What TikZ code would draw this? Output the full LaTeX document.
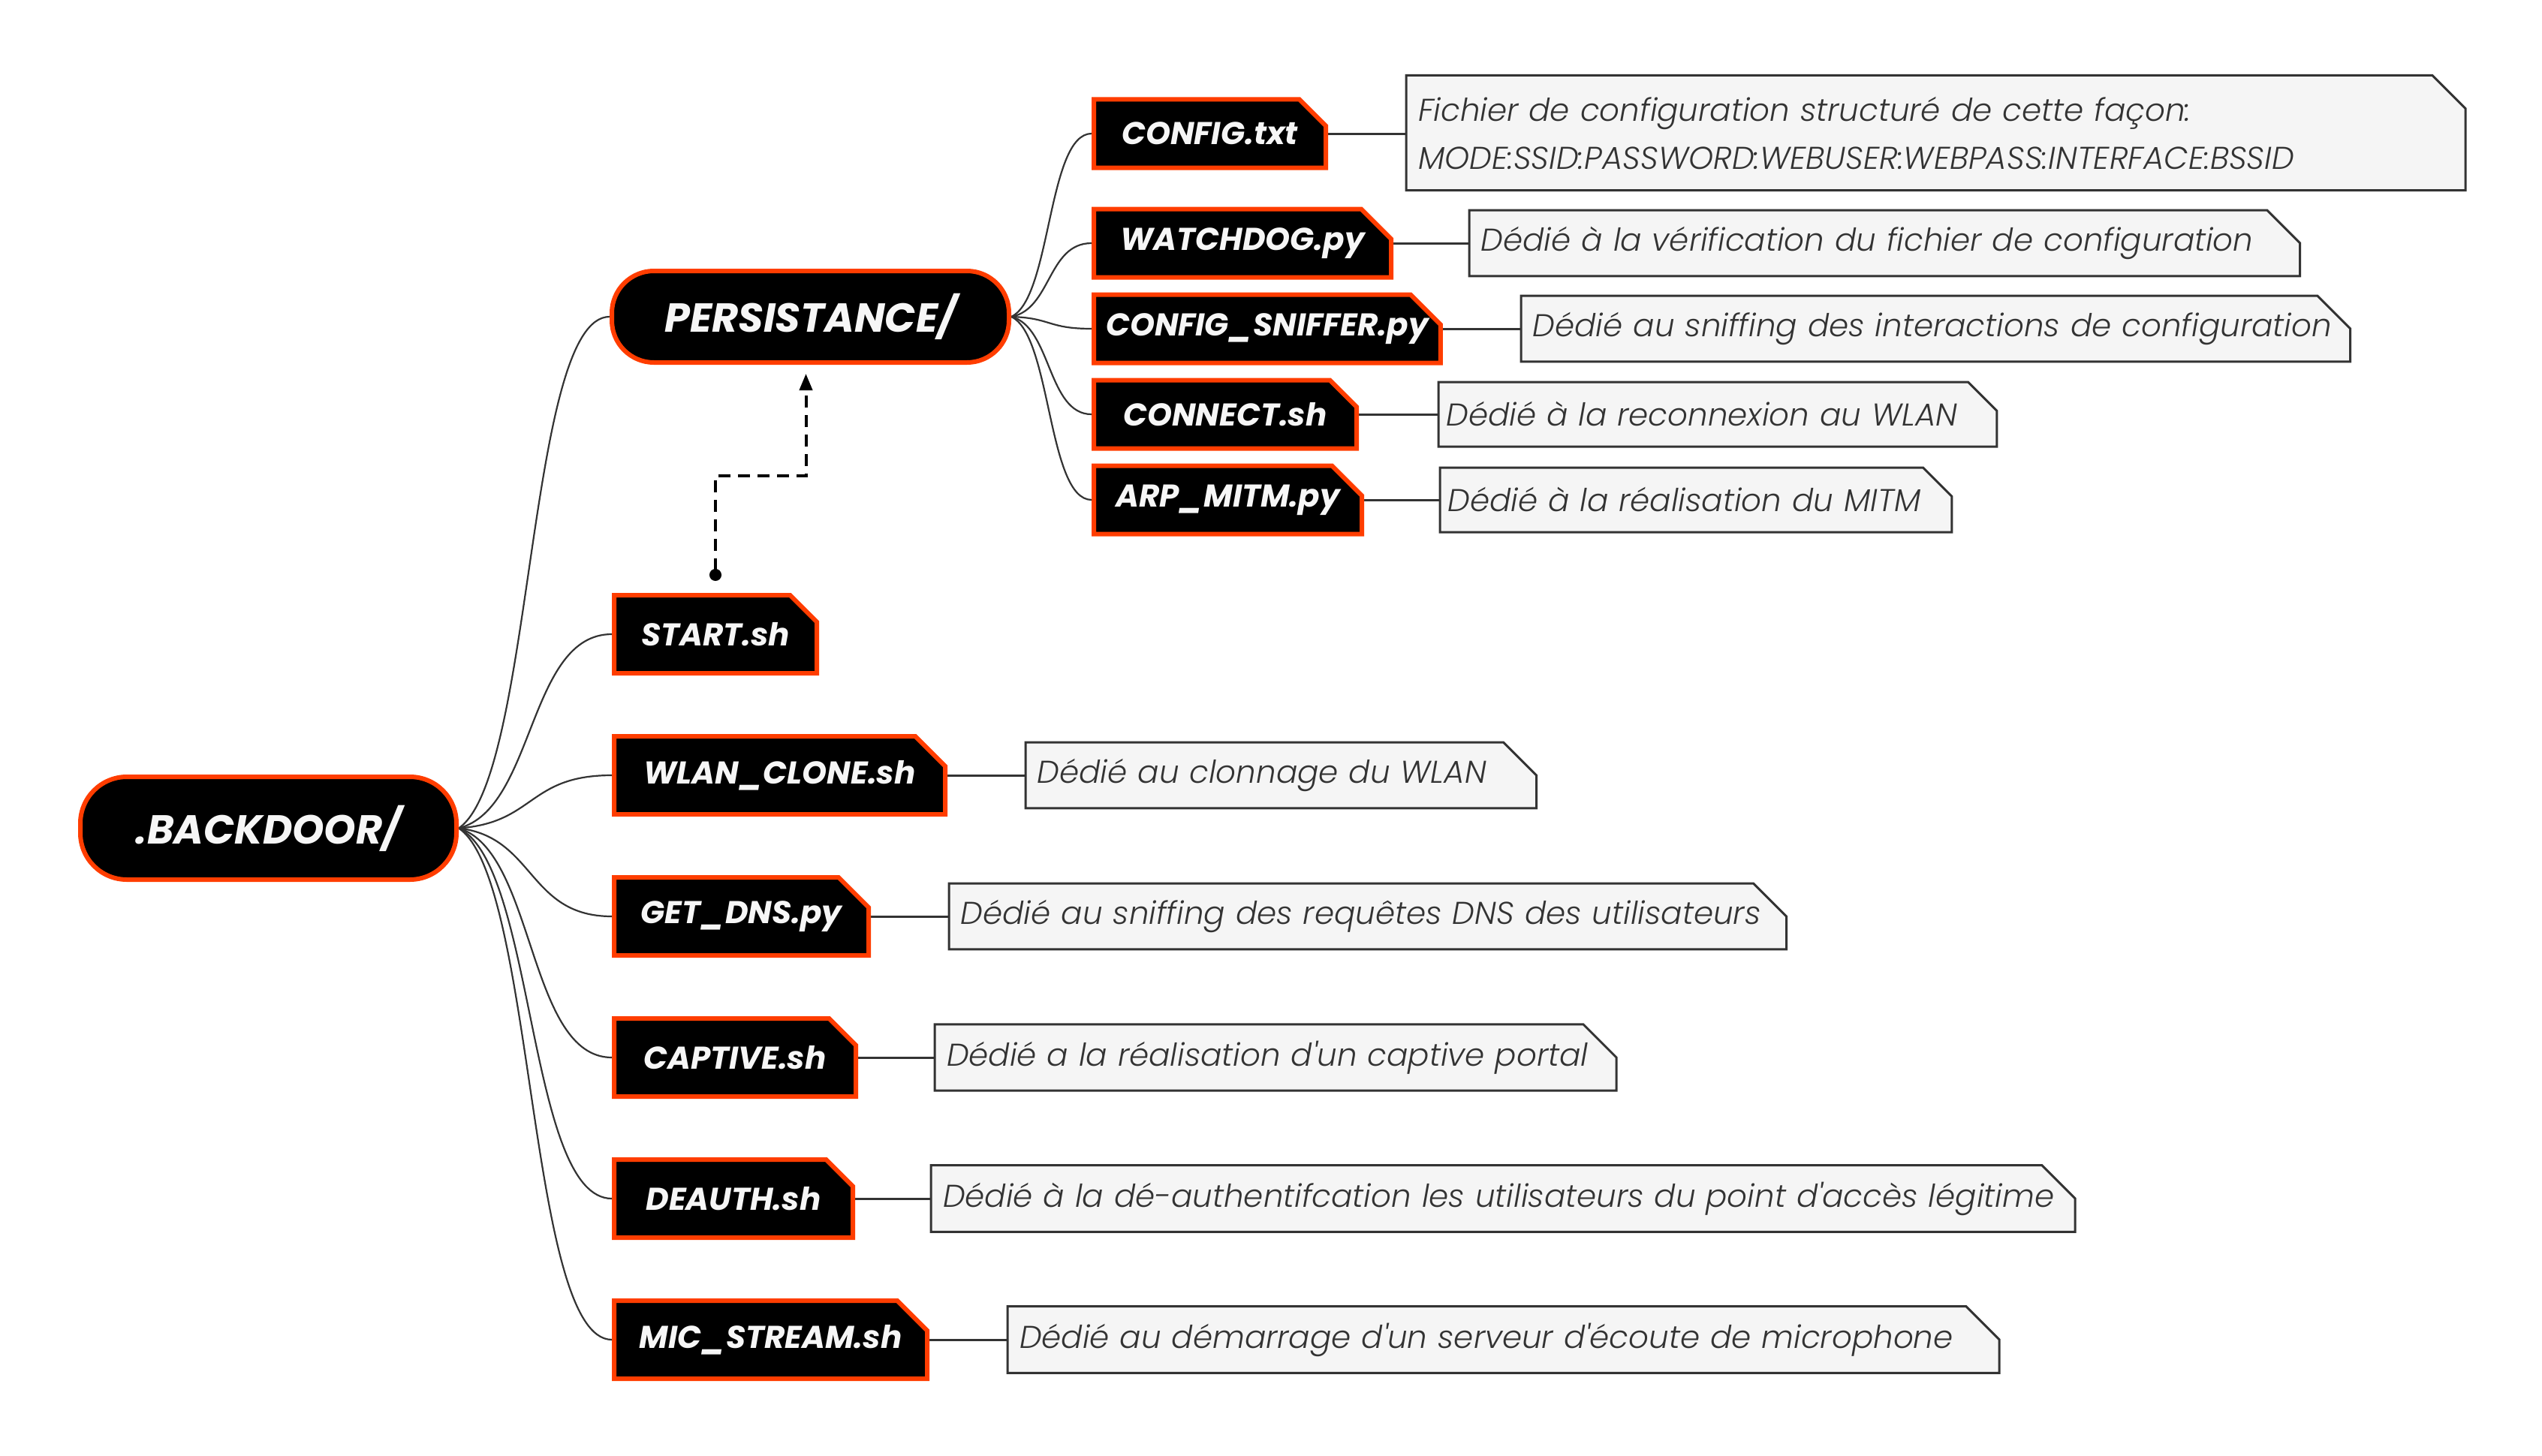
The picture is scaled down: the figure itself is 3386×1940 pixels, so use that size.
\documentclass[tikz,border=0pt]{standalone}
\usepackage{fontspec}
\setmainfont{Poppins}
\newfontfamily\descfont{Poppins}[UprightFont=* Light, ItalicFont=* Light Italic]
\usetikzlibrary{shapes.misc,arrows.meta,calc,backgrounds}
\definecolor{mmorange}{HTML}{FF3D00}
\definecolor{mmdark}{HTML}{333333}
\definecolor{mmfill}{HTML}{F5F5F5}
\definecolor{mmtext}{HTML}{F6F6F6}
\newcommand{\apos}{\symbol{39}}
\newcommand{\mmlink}[2]{%
  \draw[curvelink] let \p1=(#1.east), \p2=(#2.west) in
    (\p1) .. controls ({\x1+0.5*(\x2-\x1)},{\y1+0.1*(\y2-\y1)}) and ({\x1+0.45*(\x2-\x1)},\y2) .. (\p2);}
\begin{document}
\begin{tikzpicture}[x=1pt,y=-1pt,
  hub/.style={draw=mmorange, fill=black, line width=6pt, rounded corners=#1,
    text=mmtext, font=\fontsize{54}{60}\selectfont\bfseries\itshape, inner sep=0pt},
  filebox/.style={chamfered rectangle, chamfered rectangle corners=north east,
    chamfered rectangle xsep=20pt, chamfered rectangle ysep=20pt,
    draw=mmorange, fill=black, line width=6pt, text=mmtext,
    font=\fontsize{42}{46}\selectfont\bfseries\itshape, inner xsep=-4pt, inner ysep=0pt, anchor=west},
  descbox/.style={chamfered rectangle, chamfered rectangle corners=north east,
    chamfered rectangle xsep=22pt, chamfered rectangle ysep=22pt,
    draw=mmdark, fill=mmfill, line width=3pt, text=mmdark,
    font=\descfont\fontsize{42}{64}\selectfont\itshape, anchor=west, align=left,
    inner xsep=-6pt, inner ysep=0pt, minimum height=86pt},
  curvelink/.style={draw=mmdark, line width=2.2pt},
  desclink/.style={draw=mmdark, line width=3pt},
  dashlink/.style={draw=black, line width=4pt, dash pattern=on 16pt off 10pt,
    {Circle[length=16pt]}-{Triangle[length=22pt,width=17pt]}, shorten >=12pt}
]
\useasboundingbox (0,0) rectangle (3386,1940);

% hubs
\node[hub=62, minimum width=501pt, minimum height=137pt] (root) at (357.5,1103.5) {.BACKDOOR/};
\node[hub=56, minimum width=529pt, minimum height=122pt] (pers) at (1079.5,422) {PERSISTANCE/};

% persistance children
\node[filebox, minimum width=309pt, minimum height=91pt] (cfg) at (1454,178) {CONFIG.txt};
\node[filebox, minimum width=396pt, minimum height=91pt] (wd) at (1454,324) {WATCHDOG.py};
\node[filebox, minimum width=461pt, minimum height=91pt] (sn) at (1454,438) {CONFIG\_SNIFFER.py};
\node[filebox, minimum width=350pt, minimum height=91pt] (cn) at (1454,552) {CONNECT.sh};
\node[filebox, minimum width=357pt, minimum height=91pt] (arp) at (1454,666) {ARP\_MITM.py};

% root children
\node[filebox, minimum width=270pt, minimum height=104pt] (start) at (815,845) {START.sh};
\node[filebox, minimum width=441pt, minimum height=104pt] (wlan) at (815,1033) {WLAN\_CLONE.sh};
\node[filebox, minimum width=339pt, minimum height=104pt] (dns) at (815,1221) {GET\_DNS.py};
\node[filebox, minimum width=322pt, minimum height=104pt] (cap) at (815,1409) {CAPTIVE.sh};
\node[filebox, minimum width=318pt, minimum height=104pt] (deauth) at (815,1597) {DEAUTH.sh};
\node[filebox, minimum width=417pt, minimum height=104pt] (mic) at (815,1785) {MIC\_STREAM.sh};

% descriptions
\node[descbox, text width=1379pt, minimum height=153pt] (dcfg) at (1871.5,177)
  {\mbox{Fichier de configuration structuré de cette façon:}\\\mbox{MODE:SSID:PASSWORD:WEBUSER:WEBPASS:INTERFACE:BSSID}};
\node[descbox, text width=1075pt] (dwd) at (1955.5,324) {\mbox{Dédié à la vérification du fichier de configuration}};
\node[descbox, text width=1073pt] (dsn) at (2024.5,438) {\mbox{Dédié au sniffing des interactions de configuration}};
\node[descbox, text width=723pt] (dcn) at (1914.5,552) {\mbox{Dédié à la reconnexion au WLAN}};
\node[descbox, text width=661pt] (darp) at (1916.5,666) {\mbox{Dédié à la réalisation du MITM}};
\node[descbox, text width=649pt] (dwlan) at (1364.5,1033) {\mbox{Dédié au clonnage du WLAN}};
\node[descbox, text width=1084pt] (ddns) at (1262.5,1221) {\mbox{Dédié au sniffing des requêtes DNS des utilisateurs}};
\node[descbox, text width=876pt] (dcap) at (1243.5,1409) {\mbox{Dédié a la réalisation d\apos un captive portal}};
\node[descbox, text width=1492pt] (ddeauth) at (1238.5,1597) {\mbox{Dédié à la dé-authentifcation les utilisateurs du point d\apos accès légitime}};
\node[descbox, text width=1289pt] (dmic) at (1340.5,1785) {\mbox{Dédié au démarrage d\apos un serveur d\apos écoute de microphone}};

\begin{scope}[on background layer]
  \mmlink{root}{pers}
  \mmlink{root}{start}
  \mmlink{root}{wlan}
  \mmlink{root}{dns}
  \mmlink{root}{cap}
  \mmlink{root}{deauth}
  \mmlink{root}{mic}
  \mmlink{pers}{cfg}
  \mmlink{pers}{wd}
  \mmlink{pers}{sn}
  \mmlink{pers}{cn}
  \mmlink{pers}{arp}
  \foreach \a/\b in {cfg/dcfg, wd/dwd, sn/dsn, cn/dcn, arp/darp, wlan/dwlan, dns/ddns, cap/dcap, deauth/ddeauth, mic/dmic}
    \draw[desclink] (\a.east) -- (\a.east -| \b.west);
\end{scope}

\coordinate (sdot) at ([yshift=16pt]start.north);
\draw[dashlink] (sdot) -- ++(0,-140) -| ([xshift=-6pt]pers.south);
\end{tikzpicture}
\end{document}
